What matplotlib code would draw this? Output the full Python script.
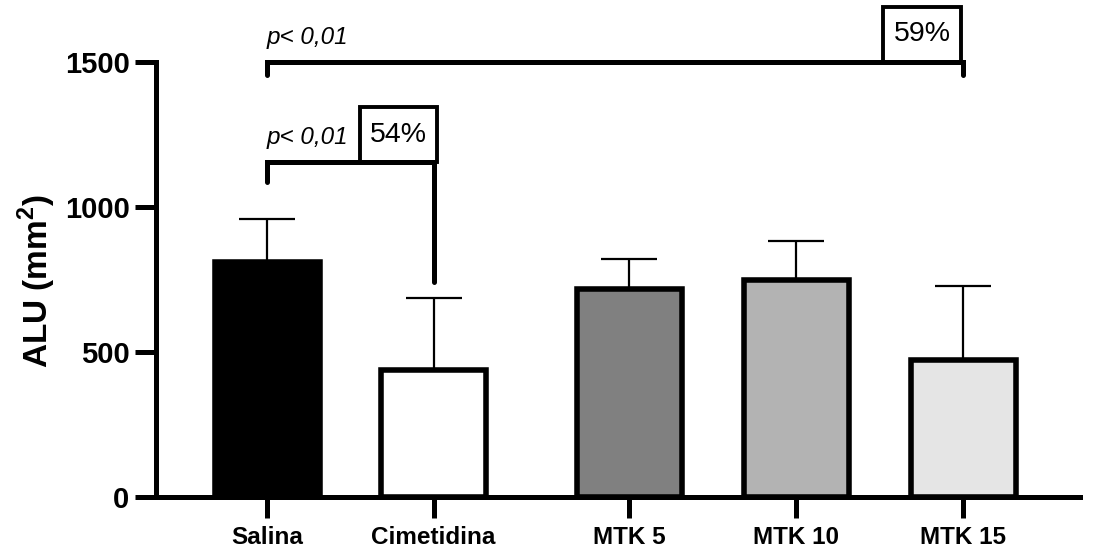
import matplotlib
matplotlib.use("Agg")
import matplotlib.pyplot as plt
from matplotlib.patches import Rectangle

plt.rcParams['font.family'] = ['Liberation Sans', 'DejaVu Sans']
plt.rcParams['mathtext.fontset'] = 'custom'
plt.rcParams['mathtext.bf'] = 'Liberation Sans:bold'
plt.rcParams['mathtext.rm'] = 'Liberation Sans:bold'

# data
groups = ["Salina", "Cimetidina", "MTK 5", "MTK 10", "MTK 15"]
means = [810, 438, 716, 747, 471]
sds = [149, 248, 105, 136, 257]
colors = ["#000000", "#ffffff", "#808080", "#b3b3b3", "#e5e5e5"]
yticks = [0, 500, 1000, 1500]
sig_labels = ["p< 0,01", "p< 0,01"]
pct_labels = ["54%", "59%"]

# layout positions (gap between controls and MTK groups)
pos = [0, 1, 2.175, 3.177, 4.18]

fig = plt.figure(figsize=(10.99, 5.53), dpi=100)
ax = fig.add_axes([156/1099, 1-497/553, (1080-156)/1099, (497-62)/553])

ax.bar(pos, means, width=0.63, color=colors, edgecolor="black", linewidth=4.0, zorder=3)
ax.errorbar(pos, means, yerr=[[0]*len(means), sds], fmt="none", ecolor="black",
            elinewidth=1.6, capsize=20.5, capthick=1.6, zorder=2)

ax.set_xlim(-0.667, 4.88)
ax.set_ylim(0, 1500)
ax.set_yticks(yticks)
ax.set_xticks(pos)
ax.set_xticklabels(groups, fontsize=17.5, fontweight="bold")
ax.tick_params(axis="y", labelsize=21, length=15, width=3.6, pad=4)
ax.tick_params(axis="x", length=15, width=3.6, pad=6)
for lab in ax.get_yticklabels():
    lab.set_fontweight("bold")
for s in ["top", "right"]:
    ax.spines[s].set_visible(False)
for s in ["left", "bottom"]:
    ax.spines[s].set_linewidth(3.6)
    ax.spines[s].set_capstyle("projecting")

ax.set_ylabel(r"ALU (mm$^{\mathbf{2}}$)", fontsize=24, fontweight="bold")
ax.yaxis.set_label_coords(-0.106, 0.496)

# significance brackets
lw = 3.6
# Salina vs Cimetidina
y1 = 1155
ax.plot([pos[0], pos[0], pos[1], pos[1]], [1086, y1, y1, 741], color="black", lw=lw,
        clip_on=False, solid_capstyle="round", solid_joinstyle="miter", zorder=4)
ax.add_patch(Rectangle((0.559, y1), 1.02-0.559, 1345-y1, fill=False, lw=2.8,
                       edgecolor="black", clip_on=False, zorder=4))
ax.text((0.559+1.02)/2, (y1+1345)/2, pct_labels[0], ha="center", va="center",
        fontsize=20.5, clip_on=False)
ax.text(pos[0], 1241, sig_labels[0], ha="left", va="center", fontsize=17.5,
        style="italic", clip_on=False)

# Salina vs MTK 15
y2 = 1500
ax.plot([pos[0], pos[0], pos[4], pos[4]], [1455, y2, y2, 1455], color="black", lw=lw,
        clip_on=False, solid_capstyle="round", solid_joinstyle="miter", zorder=4)
ax.add_patch(Rectangle((3.70, y2), 4.165-3.70, 1690-y2, fill=False, lw=2.8,
                       edgecolor="black", clip_on=False, zorder=4))
ax.text((3.70+4.165)/2, (y2+1690)/2, pct_labels[1], ha="center", va="center",
        fontsize=20.5, clip_on=False)
ax.text(pos[0], 1583, sig_labels[1], ha="left", va="center", fontsize=17.5,
        style="italic", clip_on=False)

fig.savefig("out.png", dpi=100)
